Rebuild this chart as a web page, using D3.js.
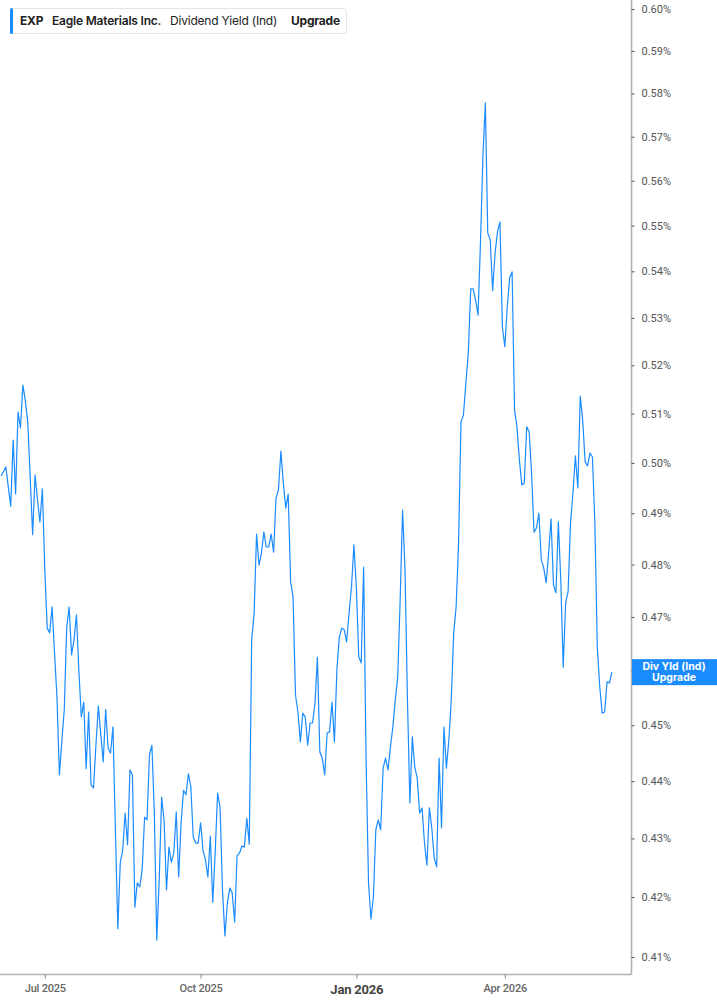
<!DOCTYPE html>
<html><head><meta charset="utf-8">
<script src="https://cdn.jsdelivr.net/npm/d3@7/dist/d3.min.js"></script>
<style>
body{margin:0;background:#fff;}
svg{display:block;}
</style>
</head><body>
<svg id="chart" width="717" height="1005"></svg>
<script>
// Dividend Yield (Ind) in %, one value per trading day (Jun 2025 - Jun 2026)
const values = [
0.4974,0.4982,0.4992,0.4952,0.4914,0.5046,0.4938,0.5103,0.5071,0.5159,
0.5126,0.5083,0.4970,0.4858,0.4976,0.4926,0.4883,0.4948,0.4790,0.4679,
0.4670,0.4719,0.4633,0.4550,0.4411,0.4472,0.4528,0.4681,0.4719,0.4629,
0.4657,0.4704,0.4599,0.4515,0.4542,0.4422,0.4524,0.4393,0.4388,0.4464,
0.4535,0.4484,0.4434,0.4529,0.4459,0.4450,0.4497,0.4315,0.4147,0.4258,
0.4280,0.4344,0.4289,0.4420,0.4411,0.4183,0.4224,0.4217,0.4246,0.4337,
0.4332,0.4447,0.4464,0.4344,0.4128,0.4229,0.4372,0.4332,0.4212,0.4285,
0.4259,0.4275,0.4346,0.4234,0.4327,0.4384,0.4376,0.4413,0.4390,0.4302,
0.4292,0.4292,0.4327,0.4280,0.4263,0.4234,0.4304,0.4191,0.4275,0.4379,
0.4355,0.4212,0.4135,0.4190,0.4215,0.4207,0.4158,0.4270,0.4275,0.4287,
0.4285,0.4335,0.4290,0.4657,0.4707,0.4859,0.4799,0.4822,0.4863,0.4834,
0.4834,0.4859,0.4824,0.4930,0.4946,0.5024,0.4960,0.4910,0.4938,0.4767,
0.4738,0.4555,0.4524,0.4470,0.4522,0.4515,0.4464,0.4504,0.4504,0.4540,
0.4625,0.4452,0.4441,0.4411,0.4486,0.4488,0.4542,0.4470,0.4601,0.4662,
0.4679,0.4676,0.4653,0.4707,0.4757,0.4838,0.4757,0.4625,0.4614,0.4795,
0.4438,0.4224,0.4163,0.4200,0.4315,0.4332,0.4315,0.4423,0.4441,0.4420,
0.4461,0.4497,0.4546,0.4588,0.4732,0.4906,0.4790,0.4546,0.4362,0.4479,
0.4425,0.4406,0.4344,0.4353,0.4292,0.4254,0.4353,0.4318,0.4266,0.4251,
0.4441,0.4318,0.4497,0.4423,0.4473,0.4546,0.4670,0.4719,0.4842,0.5083,
0.5097,0.5163,0.5226,0.5362,0.5362,0.5338,0.5306,0.5462,0.5654,0.5778,
0.5484,0.5469,0.5358,0.5440,0.5486,0.5508,0.5281,0.5239,0.5323,0.5386,
0.5399,0.5107,0.5073,0.5006,0.4956,0.4960,0.5073,0.5063,0.4980,0.4863,
0.4871,0.4900,0.4809,0.4793,0.4765,0.4822,0.4889,0.4761,0.4746,0.4883,
0.4770,0.4606,0.4727,0.4748,0.4881,0.4940,0.5014,0.4950,0.5136,0.5087,
0.5002,0.4994,0.5020,0.5012,0.4881,0.4644,0.4570,0.4522,0.4524,0.4579,
0.4577,0.4597
];
const xTickLabels = ["Jul 2025","Oct 2025","Jan 2026","Apr 2026"];
const xTickIndex = [18, 82, 146, 207];
const yTickValues = [0.41,0.42,0.43,0.44,0.45,0.46,0.47,0.48,0.49,0.50,0.51,0.52,0.53,0.54,0.55,0.56,0.57,0.58,0.59,0.60];
const legendParts = ["EXP","Eagle Materials Inc.","Dividend Yield (Ind)","Upgrade"];
const badgeLines = ["Div Yld (Ind)","Upgrade"];

const svg = d3.select("#chart");
const plotRight = 631.5, plotBottom = 974.5;
const blue = "#1a8cff";

const x = d3.scaleLinear().domain([0, 251]).range([1, 611.9]);
const y = d3.scaleLog().domain([0.41, 0.60]).range([957, 9]);

svg.append("defs").append("clipPath").attr("id","clip")
  .append("rect").attr("x",0).attr("y",0).attr("width",plotRight).attr("height",plotBottom);

// line
const line = d3.line().x((d,i)=>x(i)).y(d=>y(d));
svg.append("path").datum(values)
  .attr("clip-path","url(#clip)")
  .attr("fill","none").attr("stroke",blue).attr("stroke-width",1.2)
  .attr("stroke-linejoin","round")
  .attr("d", line);

// frame
svg.append("line").attr("x1",plotRight).attr("x2",plotRight).attr("y1",0).attr("y2",plotBottom)
  .attr("stroke","#b3b3b3").attr("stroke-width",1.6);
svg.append("line").attr("x1",0).attr("x2",plotRight).attr("y1",plotBottom).attr("y2",plotBottom)
  .attr("stroke","#b3b3b3").attr("stroke-width",1.6);

// last value badge position
const lastY = y(values[values.length-1]);

// y axis
const yAxis = d3.axisRight(y).tickValues(yTickValues)
  .tickFormat(d => d.toFixed(2) + "%").tickSize(3).tickPadding(7);
const gy = svg.append("g").attr("transform",`translate(${plotRight},0)`).call(yAxis);
gy.select(".domain").remove();
gy.selectAll(".tick line").attr("stroke","#555").attr("stroke-width",1);
gy.selectAll(".tick text").attr("fill","#555").attr("font-family","Roboto, sans-serif")
  .attr("font-size","11px");
// label hidden behind the last-value badge
gy.selectAll(".tick").filter(d => Math.abs(y(d) - lastY) < 14).select("text").remove();

// x axis
const xAxis = d3.axisBottom(x).tickValues(xTickIndex)
  .tickFormat((d,i)=>xTickLabels[i]).tickSize(4).tickPadding(6);
const gx = svg.append("g").attr("transform",`translate(0,${plotBottom})`).call(xAxis);
gx.select(".domain").remove();
gx.selectAll(".tick line").attr("stroke","#888").attr("stroke-width",1);
gx.selectAll(".tick text")
  .attr("fill", (d,i)=> i===2 ? "#444" : "#666")
  .attr("font-family","Roboto, sans-serif")
  .attr("font-size",(d,i)=> i===2 ? "13px" : "11px")
  .attr("font-weight",(d,i)=> i===2 ? "700" : "500")
  .attr("letter-spacing","-0.2px");

// legend
const lg = svg.append("g");
lg.append("rect").attr("x",10.5).attr("y",8.5).attr("width",336).attr("height",25).attr("rx",3)
  .attr("fill","#fff").attr("stroke","#e3e3e3");
lg.append("rect").attr("x",10).attr("y",8).attr("width",3).attr("height",26).attr("rx",1.5).attr("fill",blue);
const legendX = [20, 52, 170, 291];
const legendW = ["700","600","400","700"];
legendParts.forEach((t,i)=>{
  lg.append("text").attr("x",legendX[i]).attr("y",25)
    .attr("font-family","Inter, sans-serif").attr("font-size","12px")
    .attr("font-weight",legendW[i]).attr("fill","#222").attr("letter-spacing","-0.2px")
    .text(t);
});

// last value badge
const bg = svg.append("g");
bg.append("rect").attr("x",plotRight+0.5).attr("y",lastY-13).attr("width",717-plotRight).attr("height",26)
  .attr("fill",blue);
badgeLines.forEach((t,i)=>{
  bg.append("text").attr("x",674).attr("y",lastY-2.5+i*11.5)
    .attr("text-anchor","middle").attr("font-family","Inter, sans-serif")
    .attr("font-size","10.5px").attr("font-weight","700").attr("fill","#fff").text(t);
});
</script>
</body></html>
